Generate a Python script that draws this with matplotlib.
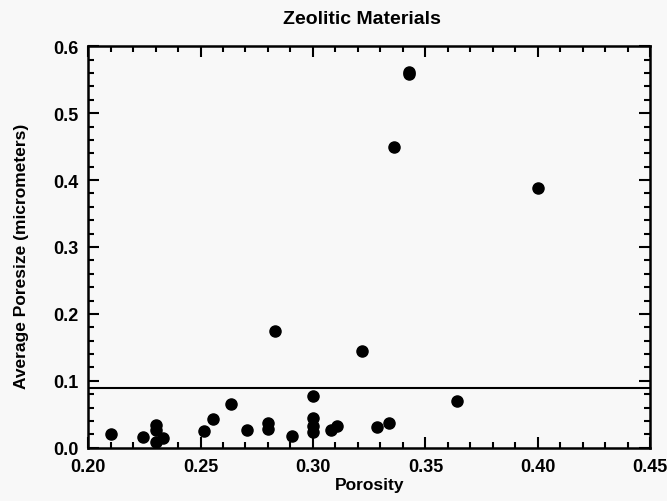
import matplotlib
matplotlib.use("Agg")
import matplotlib.pyplot as plt
from matplotlib.ticker import MultipleLocator, FormatStrFormatter

# porosity / average poresize (micrometers)
porosity = [0.210, 0.2245, 0.230, 0.230, 0.230, 0.2335, 0.2515, 0.2555,
            0.2635, 0.2705, 0.280, 0.280, 0.2905, 0.300, 0.300, 0.300,
            0.300, 0.308, 0.3105, 0.3285, 0.334, 0.364, 0.283, 0.322,
            0.336, 0.3425, 0.3425, 0.400]
poresize = [0.021, 0.016, 0.034, 0.026, 0.009, 0.014, 0.025, 0.043,
            0.066, 0.027, 0.037, 0.028, 0.017, 0.077, 0.045, 0.033,
            0.023, 0.026, 0.032, 0.031, 0.037, 0.070, 0.174, 0.144,
            0.450, 0.559, 0.562, 0.388]

cutoff = 0.089

plt.rcParams['font.family'] = ['Liberation Sans', 'DejaVu Sans']
plt.rcParams['font.weight'] = 'bold'

fig = plt.figure(figsize=(6.67, 5.02), dpi=100, facecolor='#f8f8f8')
ax = fig.add_axes([0.132, 0.106, 0.843, 0.80])
ax.set_facecolor('#f8f8f8')

ax.plot(porosity, poresize, 'o', color='black', markersize=8, linestyle='none')
ax.axhline(cutoff, color='black', linewidth=1.5)

ax.set_xlim(0.20, 0.45)
ax.set_ylim(0.0, 0.6)
ax.xaxis.set_major_locator(MultipleLocator(0.05))
ax.xaxis.set_minor_locator(MultipleLocator(0.01))
ax.yaxis.set_major_locator(MultipleLocator(0.1))
ax.yaxis.set_minor_locator(MultipleLocator(0.02))
ax.xaxis.set_major_formatter(FormatStrFormatter('%.2f'))
ax.yaxis.set_major_formatter(FormatStrFormatter('%.1f'))

ax.tick_params(which='both', direction='in', top=True, right=True,
               width=1.5, labelsize=13)
ax.tick_params(which='major', length=8, pad=7)
ax.tick_params(which='minor', length=4)
for s in ax.spines.values():
    s.set_linewidth(1.8)

ax.set_title('Zeolitic Materials', fontsize=14, fontweight='bold', pad=17, x=0.487)
ax.set_xlabel('Porosity', fontsize=12.5, fontweight='bold', labelpad=2)
ax.set_ylabel('Average Poresize (micrometers)', fontsize=12.5, fontweight='bold')
ax.yaxis.set_label_coords(-0.105, 0.48)

fig.savefig('out.png', dpi=100, facecolor=fig.get_facecolor())
